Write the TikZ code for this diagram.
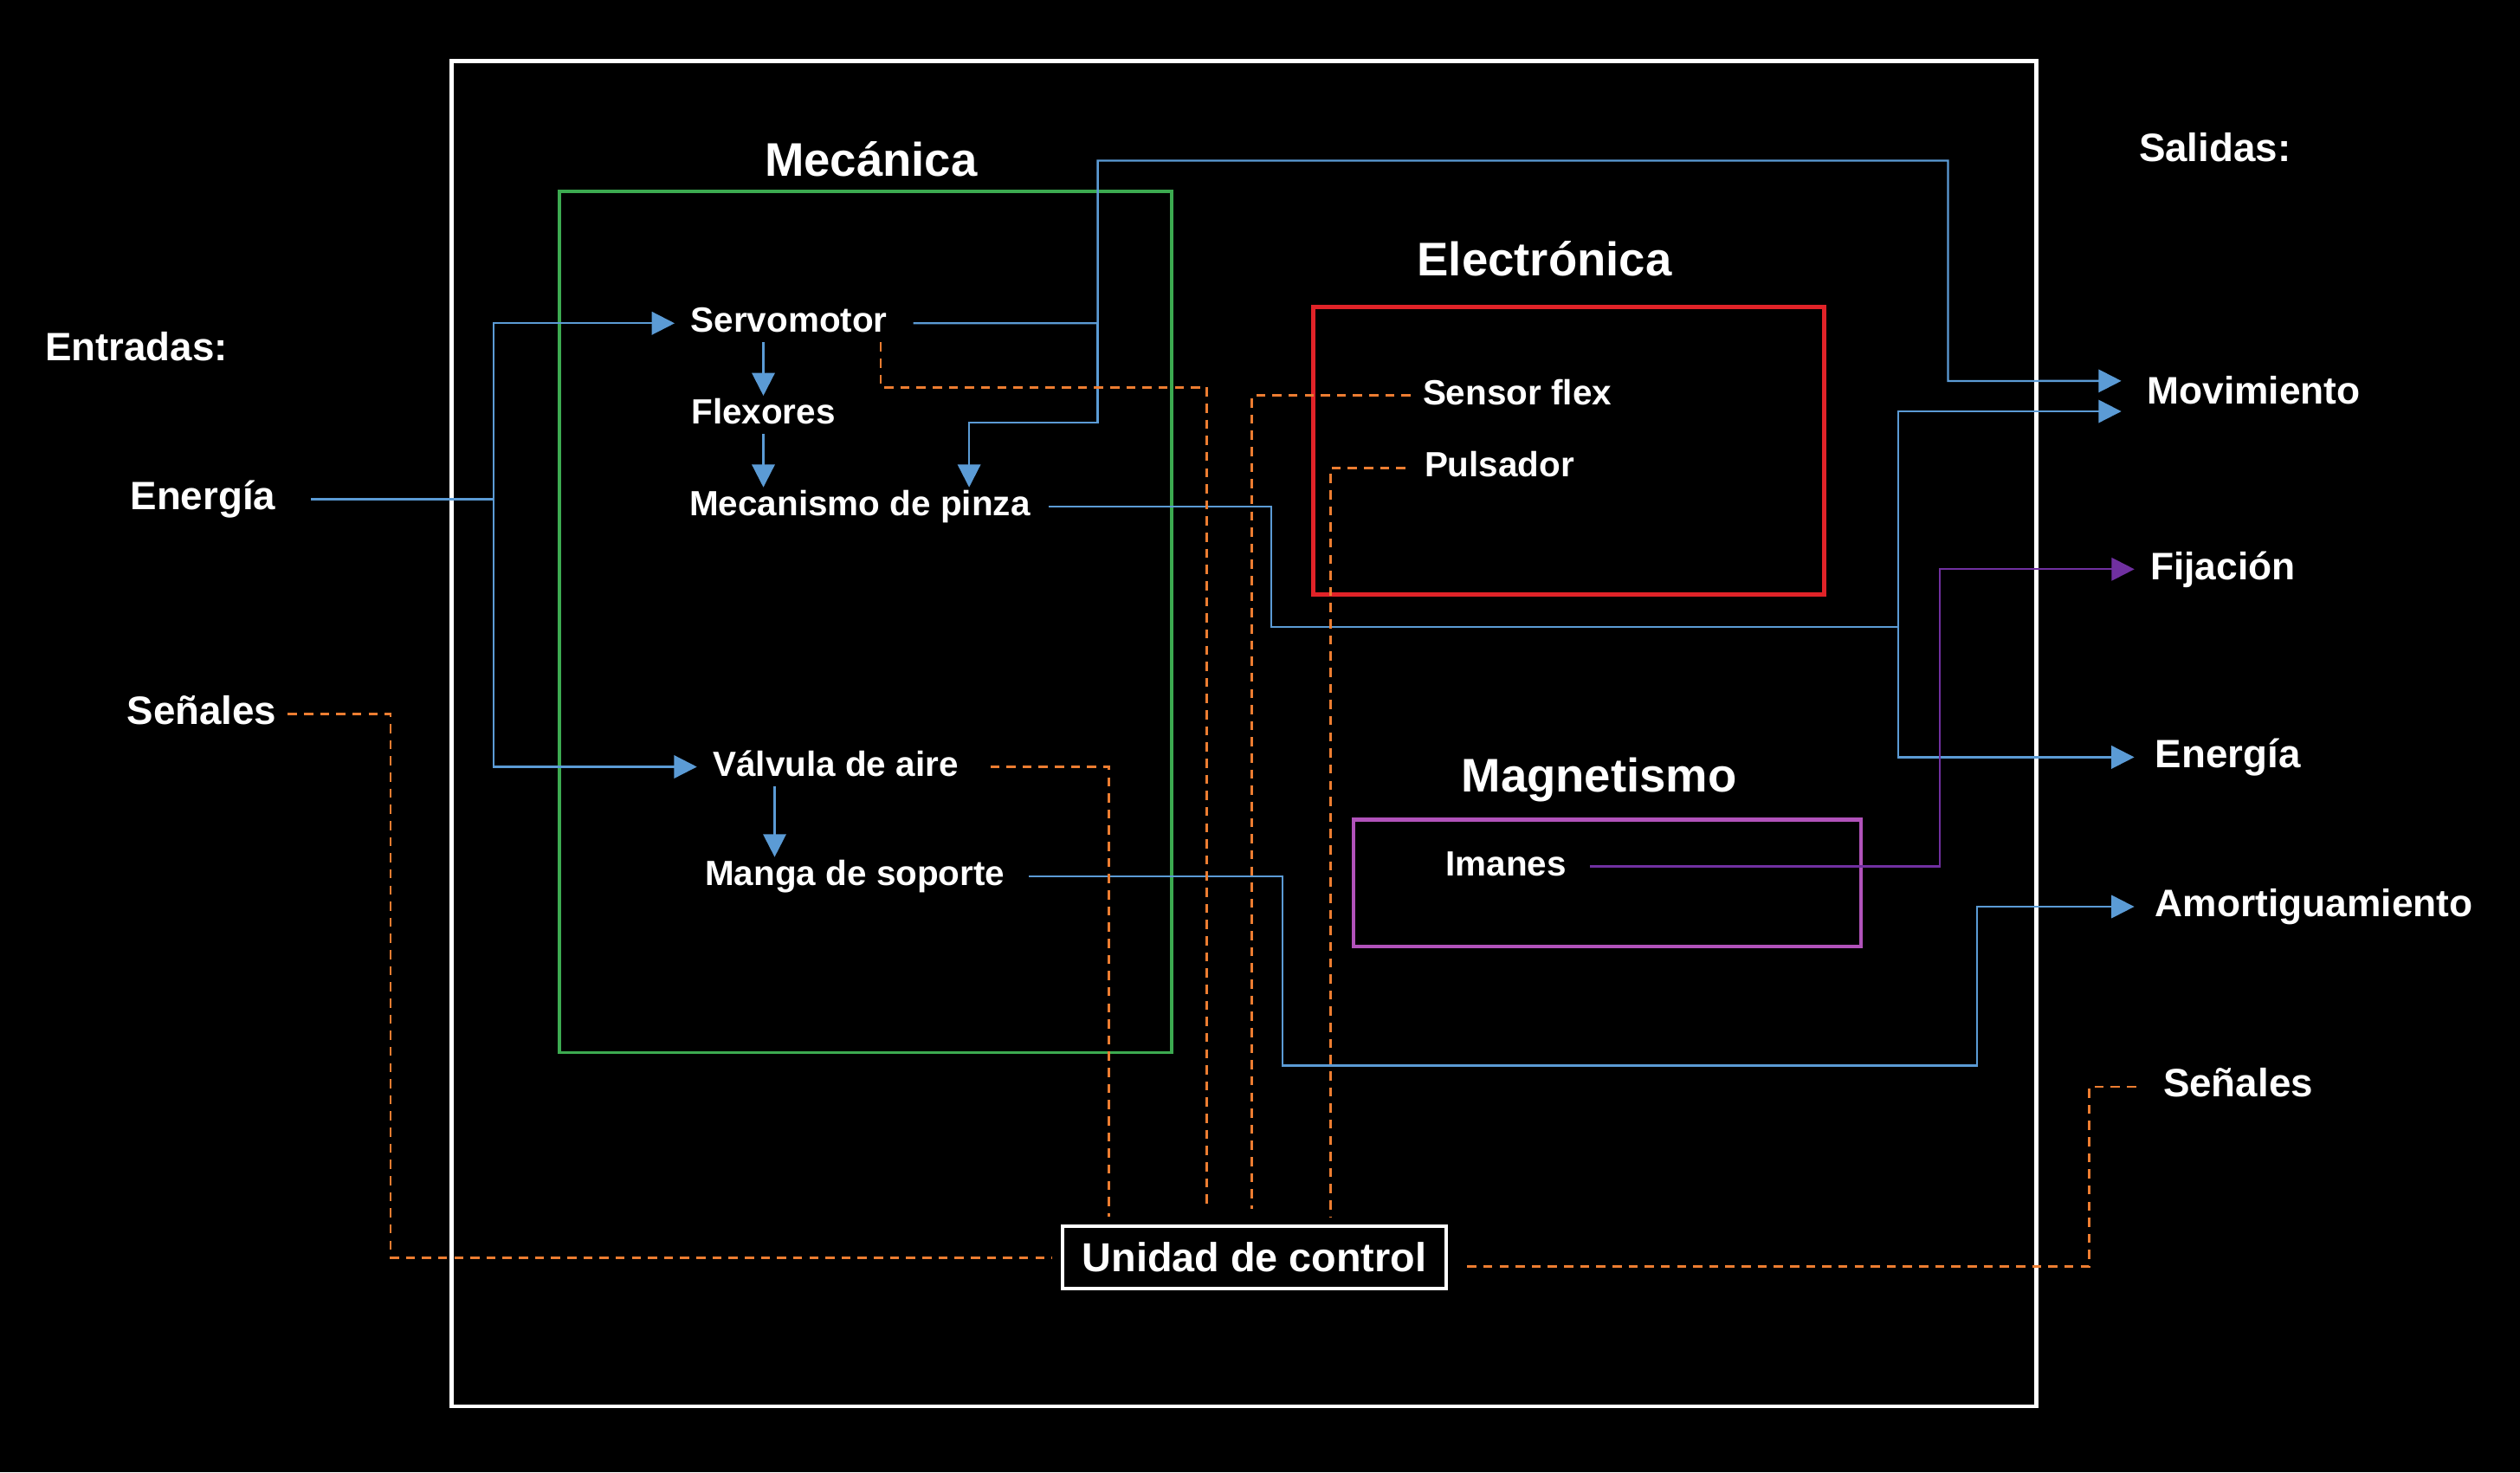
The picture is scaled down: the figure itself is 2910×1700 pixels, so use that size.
\documentclass[tikz,border=0pt]{standalone}
\usepackage{fontspec}
\setmainfont{Liberation Sans}
\usetikzlibrary{arrows.meta}
\definecolor{flowblue}{RGB}{91,155,213}
\definecolor{sigorange}{RGB}{237,125,49}
\definecolor{fixpurple}{RGB}{112,48,160}
\definecolor{mecgreen}{RGB}{60,170,80}
\definecolor{elecred}{RGB}{225,35,40}
\definecolor{magpink}{RGB}{177,82,186}
\tikzset{
  lbl/.style={text=white, inner sep=0pt, outer sep=1pt, text height=8.3pt, text depth=2.3pt, font=\fontsize{11.5}{13}\selectfont\bfseries},
  side/.style={lbl, text height=9.4pt, text depth=2.6pt, font=\fontsize{13}{15}\selectfont\bfseries},
  outlbl/.style={side, font=\fontsize{12.6}{15}\selectfont\bfseries},
  ttl/.style={lbl, text height=11.2pt, text depth=3.1pt, font=\fontsize{15.5}{18}\selectfont\bfseries},
  ucbox/.style={draw=white, line width=1.1pt, text=white, minimum width=4.43cm, minimum height=0.72cm, inner sep=0pt, font=\fontsize{13.3}{15}\selectfont\bfseries},
  flow/.style={flowblue, line width=0.65pt},
  fix/.style={fixpurple, line width=0.65pt},
  sig/.style={sigorange, line width=0.8pt, dash pattern=on 3pt off 2.3pt},
  arr/.style={-{Triangle[length=7.5pt,width=7.5pt]}},
}
\begin{document}
\begin{tikzpicture}[x=0.01cm, y=-0.01cm]
\fill[black] (0,0) rectangle (2910,1700);
\draw[white, line width=1.3pt] (521.5,70.5) rectangle (2351.4,1623.9);
\draw[mecgreen, line width=1pt] (645.9,220.9) rectangle (1353,1215.6);
\draw[elecred, line width=1.3pt] (1516.3,354.5) rectangle (2106.4,686.7);
\draw[magpink, line width=1.2pt] (1562.7,946.5) rectangle (2149.1,1093.1);

\node[ttl] (mec) at (1005.9,189) {Mecánica};
\node[ttl] (elec) at (1783.5,304) {Electrónica};
\node[ttl] (mag) at (1846.6,900) {Magnetismo};

\node[side, anchor=west] (entradas) at (48.5,404.5) {Entradas:};
\node[side, anchor=west] (salidas) at (2466.5,174.4) {Salidas:};
\node[side, anchor=west] (energIn) at (147,576.5) {Energía};
\node[side, anchor=west] (senIn) at (143,824.3) {Señales};
\node[outlbl, anchor=west] (mov) at (2476,455) {Movimiento};
\node[outlbl, anchor=west] (fij) at (2479.5,657.3) {Fijación};
\node[side, anchor=west] (energOut) at (2485.3,874.4) {Energía};
\node[outlbl, anchor=west] (amort) at (2485.3,1047) {Amortiguamiento};
\node[side, anchor=west] (senOut) at (2494.5,1255) {Señales};

\node[lbl] (servo) at (911.2,373.3) {Servomotor};
\node[lbl] (flex) at (881.5,479.1) {Flexores};
\node[lbl] (pinza) at (992.9,584.9) {Mecanismo de pinza};
\node[lbl] (valv) at (965,885.5) {Válvula de aire};
\node[lbl] (manga) at (987.3,1011.8) {Manga de soporte};
\node[lbl] (sensor) at (1752,456.8) {Sensor flex};
\node[lbl] (puls) at (1731.5,540.3) {Pulsador};
\node[lbl] (iman) at (1739,1000.6) {Imanes};
\node[ucbox] (uc) at (1448.5,1452.2) {Unidad de control};

\coordinate (jx) at (569.8,0);
\coordinate (sx) at (1267.6,185.6);
\coordinate (kS) at (1119.1,488.1);
\coordinate (vm) at (894.5,0);
\coordinate (px) at (1468,723.8);
\coordinate (jP) at (2191.9,723.8);
\coordinate (mx) at (1481,1230.5);
\coordinate (ax) at (2282.8,1230.5);
\coordinate (ix) at (2240.1,0);
\coordinate (lx) at (451,0);
\coordinate (rx) at (2412.7,0);
\coordinate (sd) at (1017,447.3);
\coordinate (d1) at (1280.6,1405);
\coordinate (d2) at (1393.8,1395.7);
\coordinate (d3) at (1445.8,1395.7);
\coordinate (d4) at (1536.7,1405);

\draw[flow] ([xshift=10.7pt]energIn.east) -- (energIn.east -| jx);
\draw[flow, arr] (energIn.east -| jx) |- ([xshift=-4.3pt]servo.west);
\draw[flow, arr] (energIn.east -| jx) |- ([xshift=-4.3pt]valv.west);
\draw[flow, arr] (servo.south -| flex) -- (flex.north);
\draw[flow, arr] (flex.south) -- (pinza.north -| flex);
\draw[flow, arr] (valv.south -| vm) -- (manga.north -| vm);
\draw[flow, arr] ([xshift=7.5pt]servo.east) -| (sx) -| (2249.4,439.9) -- ([xshift=-7.5pt, yshift=4.3pt]mov.west);
\draw[flow, arr] (servo.east -| sx) |- (kS) -- (kS |- pinza.north);
\draw[flow] ([xshift=5pt]pinza.east) -| (px) -- (jP);
\draw[flow, arr] (jP) |- ([xshift=-7.5pt, yshift=-5.7pt]mov.west);
\draw[flow, arr] (jP) |- ([xshift=-5.9pt]energOut.west);
\draw[flow, arr] ([xshift=7pt]manga.east) -| (mx) -- (ax) |- ([xshift=-5.9pt]amort.west);
\draw[fix, arr] ([xshift=6.7pt]iman.east) -- (iman.east -| ix) |- ([xshift=-4.2pt]fij.west);

\draw[sig] ([xshift=2.7pt]senIn.east) -| (uc.west -| lx) -- ([xshift=-3pt]uc.west);
\draw[sig] ([xshift=6.3pt, yshift=-2.9pt]uc.east) -| (senOut.west -| rx) -- ([xshift=-6.4pt]senOut.west);
\draw[sig] ([xshift=9.5pt]valv.east) -| (d1);
\draw[sig] (sd |- servo.south) -- (sd) -| (d2);
\draw[sig] ([xshift=-3pt]sensor.west) -| (d3);
\draw[sig] ([xshift=-5.3pt]puls.west) -| (d4);
\end{tikzpicture}
\end{document}
